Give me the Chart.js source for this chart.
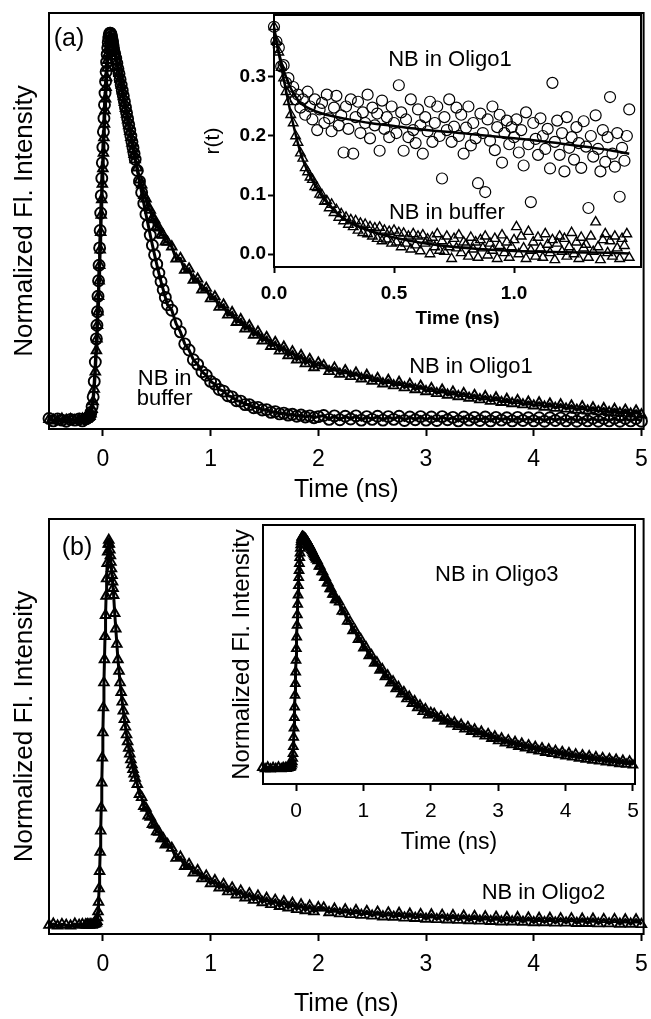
<!DOCTYPE html>
<html>
<head>
<meta charset="utf-8">
<script src="https://cdn.jsdelivr.net/npm/chart.js@4.4.1/dist/chart.umd.min.js"></script>
<style>
  html, body { margin: 0; padding: 0; background: #fff; }
  #wrap { position: relative; width: 651px; height: 1019px; }
  #wrap canvas { position: absolute; left: 0; top: 0; }
</style>
</head>
<body>
<div id="wrap">
  <canvas id="mainA" width="651" height="1019"></canvas>
  <canvas id="insetA" width="651" height="1019"></canvas>
  <canvas id="mainB" width="651" height="1019"></canvas>
  <canvas id="insetB" width="651" height="1019"></canvas>
</div>
<script>
// --- datos ---
// tiempo (ns) común a las curvas de intensidad
const t = [
  -0.5,-0.46,-0.42,-0.38,-0.34,-0.3,-0.26,-0.22,-0.19,
  -0.16,-0.15,-0.14,-0.13,-0.12,-0.11,-0.1,-0.09,-0.08,-0.07,-0.06,
  -0.055,-0.05,-0.045,-0.04,-0.035,-0.03,-0.025,-0.02,-0.015,-0.01,-0.005,0,0.005,0.01,0.015,0.02,
  0.025,0.03,0.035,0.04,0.045,0.05,0.055,0.06,0.065,0.07,0.075,0.08,0.085,0.09,0.095,0.1,
  0.11,0.12,0.13,0.14,0.15,0.16,0.17,0.18,0.19,0.2,0.21,0.22,0.23,0.24,0.25,0.26,0.27,0.28,0.29,0.3,
  0.32,0.34,0.36,0.38,0.4,0.42,0.44,0.46,0.48,0.5,0.52,0.54,0.56,0.58,0.6,
  0.64,0.68,0.72,0.76,0.8,0.84,0.88,0.92,0.96,1,1.04,1.08,1.12,1.16,1.2,1.24,1.28,1.32,1.36,1.4,
  1.44,1.48,1.52,1.56,1.6,1.64,1.68,1.72,1.76,1.8,1.84,1.88,1.92,1.96,2,
  2.05,2.1,2.15,2.2,2.25,2.3,2.35,2.4,2.45,2.5,2.55,2.6,2.65,2.7,2.75,2.8,2.85,2.9,2.95,3,
  3.05,3.1,3.15,3.2,3.25,3.3,3.35,3.4,3.45,3.5,3.55,3.6,3.65,3.7,3.75,3.8,3.85,3.9,3.95,4,
  4.05,4.1,4.15,4.2,4.25,4.3,4.35,4.4,4.45,4.5,4.55,4.6,4.65,4.7,4.75,4.8,4.85,4.9,4.95,5
];

// (a) NB en tampón (círculos)
const bufferA = [
  0.004,-0.002,0.003,0,-0.003,0.002,0,0.003,-0.002,
  0.003,0.004,0.006,0.008,0.012,0.02,0.035,0.06,0.1,0.15,0.21,
  0.245,0.28,0.32,0.36,0.4,0.445,0.49,0.535,0.58,0.625,0.665,0.705,0.745,0.78,0.815,0.845,
  0.875,0.9,0.925,0.945,0.962,0.976,0.987,0.995,1,1,0.997,0.992,0.985,0.977,0.968,0.958,
  0.947,0.935,0.922,0.908,0.895,0.88,0.866,0.852,0.838,0.823,0.808,0.794,0.779,0.764,0.749,0.734,0.719,0.704,0.689,0.674,
  0.645,0.617,0.588,0.56,0.532,0.505,0.478,0.452,0.427,0.403,0.38,0.358,0.337,0.317,0.298,
  0.284,0.249,0.228,0.197,0.181,0.156,0.144,0.125,0.116,0.1,0.093,0.079,0.075,0.063,0.06,0.05,0.049,0.04,0.04,0.032,
  0.033,0.026,0.027,0.02,0.022,0.016,0.018,0.013,0.015,0.01,0.013,0.008,0.011,0.006,0.009,
  0.012,0.002,0.011,0.001,0.01,0.003,0.011,0,0.009,0.002,0.01,0,0.009,0.002,0.01,-0.001,0.008,0.001,0.009,0,
  0.008,-0.001,0.009,0.001,0.007,-0.002,0.008,0,0.007,-0.001,0.008,-0.002,0.007,0,0.006,-0.002,0.007,-0.001,0.006,-0.002,
  0.006,-0.003,0.006,-0.001,0.005,-0.002,0.006,-0.003,0.005,-0.002,0.005,-0.003,0.004,-0.002,0.005,-0.003,0.004,-0.002,0.004,-0.003
];

// (a) NB en Oligo1 (triángulos)
const oligo1A = [
  0.002,0,-0.002,0.003,0,0.002,-0.001,0.001,0.003,
  0.002,0.003,0.005,0.007,0.01,0.016,0.028,0.048,0.08,0.125,0.18,
  0.21,0.245,0.28,0.32,0.36,0.4,0.44,0.485,0.53,0.57,0.61,0.65,0.69,0.73,0.765,0.8,
  0.83,0.86,0.885,0.91,0.93,0.948,0.962,0.973,0.981,0.986,0.988,0.987,0.984,0.979,0.972,0.964,
  0.953,0.94,0.926,0.911,0.896,0.881,0.866,0.851,0.836,0.821,0.806,0.791,0.776,0.761,0.746,0.731,0.716,0.701,0.687,0.673,
  0.652,0.621,0.608,0.581,0.572,0.549,0.543,0.522,0.518,0.499,0.497,0.479,0.478,0.461,0.46,
  0.448,0.417,0.418,0.388,0.391,0.362,0.365,0.337,0.341,0.314,0.319,0.292,0.298,0.272,0.278,0.253,0.26,0.236,0.244,0.22,
  0.228,0.205,0.214,0.191,0.201,0.179,0.189,0.167,0.177,0.156,0.167,0.146,0.157,0.136,0.148,
  0.141,0.126,0.135,0.119,0.128,0.113,0.122,0.107,0.116,0.101,0.108,0.094,0.103,0.089,0.098,0.084,0.093,0.079,0.088,0.074,
  0.082,0.069,0.078,0.065,0.073,0.061,0.069,0.057,0.064,0.053,0.061,0.049,0.058,0.046,0.054,0.043,0.051,0.04,0.047,0.037,
  0.045,0.034,0.042,0.031,0.04,0.029,0.037,0.026,0.035,0.024,0.032,0.022,0.03,0.02,0.028,0.018,0.026,0.016,0.024,0.014
];

// (b) NB en Oligo2 (triángulos)
const oligo2B = [
  0,0.003,-0.002,0.002,0,-0.002,0.003,0,0.002,
  0.001,0,0.002,0,0.001,0.002,0,0.002,0.003,0.004,0.006,
  0.01,0.02,0.035,0.06,0.095,0.14,0.19,0.245,0.305,0.37,0.435,0.5,0.565,0.63,0.69,0.75,
  0.805,0.855,0.9,0.94,0.97,0.99,1,0.99,0.975,0.96,0.943,0.926,0.909,0.892,0.875,0.857,
  0.81,0.77,0.73,0.69,0.66,0.63,0.605,0.58,0.557,0.535,0.515,0.495,0.477,0.46,0.445,0.43,0.417,0.405,0.393,0.382,
  0.366,0.34,0.332,0.309,0.304,0.284,0.281,0.262,0.26,0.243,0.242,0.225,0.225,0.209,0.21,
  0.2,0.174,0.177,0.153,0.158,0.136,0.142,0.121,0.128,0.108,0.116,0.097,0.106,0.087,0.097,0.079,0.089,0.071,0.082,0.065,
  0.076,0.059,0.07,0.054,0.065,0.049,0.061,0.045,0.057,0.041,0.053,0.038,0.05,0.035,0.046,
  0.045,0.033,0.042,0.03,0.04,0.028,0.038,0.026,0.036,0.024,0.034,0.022,0.032,0.021,0.031,0.019,0.029,0.018,0.028,0.016,
  0.027,0.015,0.026,0.014,0.025,0.013,0.024,0.012,0.023,0.011,0.022,0.01,0.021,0.009,0.02,0.009,0.02,0.008,0.019,0.007,
  0.018,0.007,0.018,0.006,0.017,0.006,0.017,0.005,0.016,0.005,0.016,0.004,0.015,0.004,0.015,0.003,0.014,0.003,0.014,0.002
];

// (b, recuadro) NB en Oligo3 (triángulos)
const oligo3B = [
  0.01,0.005,0.012,0.004,0.01,0.006,0.012,0.005,0.01,
  0.008,0.01,0.006,0.01,0.008,0.01,0.012,0.01,0.014,0.018,0.025,
  0.035,0.05,0.07,0.1,0.14,0.18,0.225,0.27,0.32,0.37,0.42,0.47,0.52,0.57,0.62,0.665,
  0.71,0.75,0.79,0.825,0.855,0.885,0.91,0.93,0.95,0.965,0.978,0.988,0.995,0.999,1,1,
  0.998,0.996,0.993,0.99,0.986,0.982,0.977,0.972,0.967,0.962,0.957,0.951,0.945,0.939,0.933,0.927,0.921,0.915,0.909,0.903,
  0.897,0.873,0.873,0.849,0.849,0.825,0.825,0.801,0.801,0.777,0.777,0.753,0.753,0.729,0.729,
  0.72,0.68,0.678,0.637,0.637,0.597,0.598,0.559,0.562,0.523,0.526,0.489,0.493,0.457,0.462,0.427,0.433,0.399,0.406,0.373,
  0.381,0.348,0.357,0.326,0.335,0.305,0.315,0.285,0.296,0.267,0.278,0.25,0.262,0.235,0.246,
  0.242,0.222,0.229,0.209,0.216,0.197,0.205,0.186,0.195,0.175,0.185,0.165,0.175,0.155,0.165,0.145,0.155,0.135,0.145,0.125,
  0.136,0.116,0.128,0.108,0.121,0.101,0.114,0.094,0.107,0.087,0.1,0.081,0.094,0.075,0.089,0.07,0.083,0.065,0.078,0.06,
  0.073,0.055,0.068,0.05,0.064,0.046,0.06,0.042,0.056,0.038,0.052,0.034,0.048,0.031,0.045,0.027,0.041,0.024,0.038,0.021
];

// recuadro (a): anisotropía r(t)
const tR = [
  0,0.01,0.02,0.03,0.04,0.05,0.06,0.07,0.08,0.09,
  0.1,0.11,0.12,0.13,0.14,0.15,0.16,0.17,0.18,0.19,
  0.2,0.21,0.22,0.23,0.24,0.25,0.26,0.27,0.28,0.29,
  0.3,0.31,0.32,0.33,0.34,0.35,0.36,0.37,0.38,0.39,
  0.4,0.41,0.42,0.43,0.44,0.45,0.46,0.47,0.48,0.49,
  0.5,0.51,0.52,0.53,0.54,0.55,0.56,0.57,0.58,0.59,
  0.6,0.61,0.62,0.63,0.64,0.65,0.66,0.67,0.68,0.69,
  0.7,0.71,0.72,0.73,0.74,0.75,0.76,0.77,0.78,0.79,
  0.8,0.81,0.82,0.83,0.84,0.85,0.86,0.87,0.88,0.89,
  0.9,0.91,0.92,0.93,0.94,0.95,0.96,0.97,0.98,0.99,
  1,1.01,1.02,1.03,1.04,1.05,1.06,1.07,1.08,1.09,
  1.1,1.11,1.12,1.13,1.14,1.15,1.16,1.17,1.18,1.19,
  1.2,1.21,1.22,1.23,1.24,1.25,1.26,1.27,1.28,1.29,
  1.3,1.31,1.32,1.33,1.34,1.35,1.36,1.37,1.38,1.39,
  1.4,1.41,1.42,1.43,1.44,1.45,1.46,1.47,1.48
];
const rOligo1 = [
  0.385,0.36,0.35,0.318,0.32,0.29,0.298,0.275,0.283,0.262,
  0.27,0.248,0.262,0.236,0.275,0.25,0.228,0.262,0.21,0.245,
  0.256,0.222,0.27,0.23,0.208,0.248,0.268,0.218,0.235,0.172,
  0.25,0.212,0.262,0.17,0.232,0.258,0.205,0.24,0.222,0.27,
  0.196,0.248,0.218,0.238,0.175,0.26,0.212,0.232,0.198,0.25,
  0.222,0.205,0.286,0.24,0.175,0.228,0.198,0.262,0.21,0.188,
  0.245,0.218,0.17,0.232,0.208,0.258,0.19,0.222,0.25,0.2,
  0.128,0.232,0.21,0.262,0.19,0.216,0.248,0.2,0.236,0.17,
  0.214,0.25,0.184,0.222,0.196,0.12,0.238,0.205,0.105,0.228,
  0.192,0.25,0.176,0.215,0.236,0.155,0.205,0.226,0.186,0.215,
  0.198,0.228,0.172,0.21,0.15,0.24,0.186,0.088,0.222,0.195,
  0.168,0.23,0.2,0.178,0.212,0.145,0.29,0.19,0.226,0.168,
  0.205,0.14,0.232,0.18,0.198,0.16,0.215,0.188,0.146,0.225,
  0.182,0.078,0.2,0.165,0.235,0.178,0.14,0.21,0.156,0.198,
  0.266,0.17,0.148,0.205,0.097,0.18,0.158,0.2,0.245
];
const rBuffer = [
  0.385,0.36,0.342,0.316,0.298,0.275,0.258,0.236,0.222,0.2,
  0.189,0.171,0.162,0.146,0.139,0.13,0.126,0.114,0.112,0.101,
  0.1,0.089,0.09,0.078,0.084,0.07,0.075,0.062,0.068,0.056,
  0.062,0.05,0.058,0.046,0.056,0.04,0.052,0.036,0.05,0.034,
  0.046,0.03,0.044,0.026,0.045,0.022,0.04,0.025,0.038,0.018,
  0.04,0.02,0.036,0.012,0.035,0.018,0.03,0.008,0.034,0.015,
  0.03,0.005,0.032,0.018,0.025,0,0.028,0.012,0.034,0.006,
  0.022,0.004,0.03,0.012,-0.008,0.026,0.01,0.032,0.002,0.02,
  0.016,-0.004,0.028,0.008,0.02,-0.006,0.024,0.01,0.03,-0.002,
  0.018,0.006,0.026,-0.008,0.014,0.032,0.002,0.02,-0.006,0.012,
  0.024,0.046,0,0.03,0.01,-0.008,0.038,0.006,0.02,-0.004,
  0.028,0.01,-0.006,0.034,0.016,0.002,0.024,-0.01,0.018,0.03,
  0.004,0.026,-0.004,0.012,0.036,0,0.02,-0.008,0.028,0.01,
  0.016,-0.006,0.03,0.004,0.054,0.012,-0.01,0.024,0.034,0.002,
  0.022,-0.004,0.03,0.01,-0.008,0.026,0.014,0.034,-0.006
];
// curvas de ajuste del recuadro (a)
const fitTR = [0,0.02,0.04,0.06,0.08,0.1,0.12,0.15,0.2,0.25,0.3,0.4,0.5,0.6,0.8,1,1.2,1.4,1.48];
const fitOligo1R = [0.38,0.342,0.312,0.29,0.273,0.261,0.253,0.246,0.238,0.233,0.229,0.222,0.217,0.212,0.204,0.196,0.187,0.176,0.17];
const fitBufferR = [0.385,0.34,0.297,0.257,0.22,0.187,0.16,0.132,0.098,0.074,0.057,0.039,0.028,0.02,0.01,0.005,0.003,0.002,0.001];

// marcas de los ejes
const timeTicks = [0, 1, 2, 3, 4, 5];
const rTimeTicks = [0, 0.5, 1];
const rTicks = [0, 0.1, 0.2, 0.3];

// --- configuración ---
const FONT = '"Liberation Sans", Arial, sans-serif';
Chart.defaults.font.family = FONT;
Chart.defaults.color = '#000';

const pts = (xs, ys) => xs.map((x, i) => ({ x: x, y: ys[i] }));

// marco completo + textos dentro del gráfico
const framePlugin = {
  id: 'frame',
  beforeDraw(chart, args, o) {
    if (!o.fill) return;
    const a = chart.chartArea, ctx = chart.ctx;
    ctx.save();
    ctx.fillStyle = '#fff';
    ctx.fillRect(a.left, a.top, a.right - a.left, a.bottom - a.top);
    ctx.restore();
  },
  afterDraw(chart, args, o) {
    const a = chart.chartArea, ctx = chart.ctx;
    ctx.save();
    ctx.strokeStyle = '#000';
    ctx.lineWidth = 2;
    ctx.strokeRect(a.left, a.top, a.right - a.left, a.bottom - a.top);
    ctx.fillStyle = '#000';
    ctx.textAlign = 'center';
    ctx.textBaseline = 'middle';
    (o.notes || []).forEach(n => {
      ctx.font = n.font + ' ' + FONT;
      ctx.fillText(n.text, chart.scales.x.getPixelForValue(n.x), chart.scales.y.getPixelForValue(n.y));
    });
    ctx.restore();
  }
};
Chart.register(framePlugin);

function marker(style, r) {
  return {
    pointStyle: style, pointRadius: r, pointBorderWidth: 1.9,
    pointBorderColor: '#000', pointBackgroundColor: 'rgba(255,255,255,0)',
    borderColor: '#000', borderWidth: 3, showLine: true, clip: false
  };
}

function xScale(o) {
  return {
    type: 'linear', min: o.min, max: o.max,
    afterBuildTicks: s => { s.ticks = o.ticks.map(v => ({ value: v })); },
    afterFit: s => { s.height = o.height; s.paddingLeft = 0; s.paddingRight = 0; },
    ticks: { font: o.tickFont, padding: o.pad, maxRotation: 0, autoSkip: false, callback: o.fmt },
    grid: { display: true, drawOnChartArea: false, drawTicks: true, tickLength: o.tl, tickWidth: 2, tickColor: '#000' },
    border: { display: true, color: '#000', width: 2 },
    title: { display: true, text: 'Time (ns)', font: o.titleFont, padding: 0 }
  };
}

function yScale(o) {
  const s = {
    type: 'linear', min: o.min, max: o.max,
    afterFit: sc => { sc.width = o.width; sc.paddingTop = 0; sc.paddingBottom = 0; },
    ticks: { display: false },
    grid: { display: false },
    border: { display: true, color: '#000', width: 2 },
    title: { display: true, text: o.title, font: o.titleFont, padding: { top: o.tpad, bottom: 0 } }
  };
  if (o.ticks) {
    s.afterBuildTicks = sc => { sc.ticks = o.ticks.map(v => ({ value: v })); };
    s.ticks = { display: true, font: o.tickFont, padding: 2, callback: v => v.toFixed(1) };
    s.grid = { display: true, drawOnChartArea: false, drawTicks: true, tickLength: 6, tickWidth: 2, tickColor: '#000' };
  }
  return s;
}

function baseOptions(padding, scales, frame) {
  return {
    responsive: false, animation: false, events: [],
    layout: { padding: padding },
    plugins: { legend: { display: false }, tooltip: { enabled: false }, frame: frame },
    scales: scales
  };
}

// (a) principal
new Chart(document.getElementById('mainA'), {
  type: 'scatter',
  data: { datasets: [
    Object.assign({ label: 'NB in buffer', data: pts(t, bufferA) }, marker('circle', 5.5)),
    Object.assign({ label: 'NB in Oligo1', data: pts(t, oligo1A) }, marker('triangle', 5.5))
  ] },
  options: baseOptions({ left: 0, top: 13, right: 6, bottom: 514 }, {
    x: xScale({ min: -0.5, max: 5.02, ticks: timeTicks, height: 76, pad: 10, tl: 7,
      tickFont: { size: 23 }, titleFont: { size: 25 }, fmt: v => String(v) }),
    y: yScale({ min: -0.023, max: 1.052, width: 49, title: 'Normalized Fl. Intensity',
      titleFont: { size: 26 }, tpad: 9 })
  }, { notes: [
    { text: '(a)', x: -0.315, y: 0.984, font: '25px' },
    { text: 'NB in', x: 0.574, y: 0.106, font: '22px' },
    { text: 'buffer', x: 0.574, y: 0.054, font: '22px' },
    { text: 'NB in Oligo1', x: 3.417, y: 0.137, font: '22px' }
  ] })
});

// (a) recuadro: r(t)
new Chart(document.getElementById('insetA'), {
  type: 'scatter',
  data: { datasets: [
    { label: 'fit Oligo1', data: pts(fitTR, fitOligo1R), showLine: true, pointRadius: 0,
      borderColor: '#000', borderWidth: 2.5, cubicInterpolationMode: 'monotone' },
    { label: 'fit buffer', data: pts(fitTR, fitBufferR), showLine: true, pointRadius: 0,
      borderColor: '#000', borderWidth: 2.5, cubicInterpolationMode: 'monotone' },
    Object.assign({ label: 'NB in Oligo1', data: pts(tR, rOligo1) }, marker('circle', 5.5), { showLine: false, pointBorderWidth: 1.2 }),
    Object.assign({ label: 'NB in buffer', data: pts(tR, rBuffer) }, marker('triangle', 5.5), { showLine: false, pointBorderWidth: 1.4 })
  ] },
  options: baseOptions({ left: 200, top: 15, right: 10, bottom: 689 }, {
    x: xScale({ min: 0, max: 1.529, ticks: rTimeTicks, height: 63, pad: 9, tl: 6,
      tickFont: { size: 19, weight: 'bold' }, titleFont: { size: 19, weight: 'bold' }, fmt: v => v.toFixed(1) }),
    y: yScale({ min: -0.022, max: 0.405, width: 74, title: 'r(t)', ticks: rTicks,
      tickFont: { size: 19, weight: 'bold' }, titleFont: { size: 21 }, tpad: 1 })
  }, { fill: true, notes: [
    { text: 'NB in Oligo1', x: 0.733, y: 0.329, font: '22px' },
    { text: 'NB in buffer', x: 0.72, y: 0.069, font: '22px' }
  ] })
});

// (b) principal
new Chart(document.getElementById('mainB'), {
  type: 'scatter',
  data: { datasets: [
    Object.assign({ label: 'NB in Oligo2', data: pts(t, oligo2B) }, marker('triangle', 5.5))
  ] },
  options: baseOptions({ left: 0, top: 519, right: 6, bottom: 0 }, {
    x: xScale({ min: -0.5, max: 5.02, ticks: timeTicks, height: 85, pad: 10, tl: 7,
      tickFont: { size: 23 }, titleFont: { size: 25 }, fmt: v => String(v) }),
    y: yScale({ min: -0.023, max: 1.055, width: 49, title: 'Normalized Fl. Intensity',
      titleFont: { size: 26 }, tpad: 9 })
  }, { notes: [
    { text: '(b)', x: -0.24, y: 0.98, font: '25px' },
    { text: 'NB in Oligo2', x: 4.09, y: 0.083, font: '22px' }
  ] })
});

// (b) recuadro: Oligo3
new Chart(document.getElementById('insetB'), {
  type: 'scatter',
  data: { datasets: [
    Object.assign({ label: 'NB in Oligo3', data: pts(t, oligo3B) }, marker('triangle', 5))
  ] },
  options: baseOptions({ left: 228, top: 525, right: 16, bottom: 163 }, {
    x: xScale({ min: -0.49, max: 5.03, ticks: timeTicks, height: 72, pad: 8, tl: 7,
      tickFont: { size: 21 }, titleFont: { size: 23 }, fmt: v => String(v) }),
    y: yScale({ min: -0.06, max: 1.05, width: 35, title: 'Normalized Fl. Intensity',
      titleFont: { size: 24 }, tpad: 0 })
  }, { fill: true, notes: [
    { text: 'NB in Oligo3', x: 2.98, y: 0.837, font: '22px' }
  ] })
});
</script>
</body>
</html>
